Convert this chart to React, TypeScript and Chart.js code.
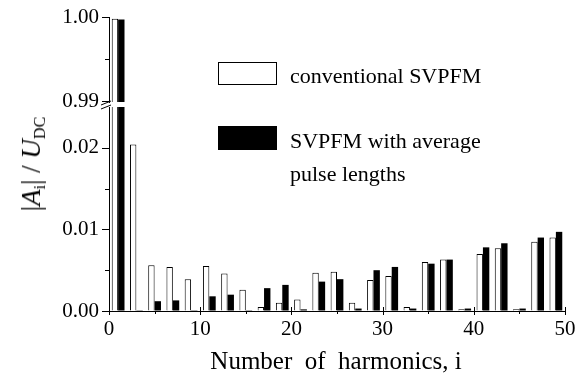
import React, { useEffect, useRef } from 'react';
import { Chart, registerables } from 'chart.js';

Chart.register(...registerables);

// ---- data ----
const HARMONICS = [1, 3, 5, 7, 9, 11, 13, 15, 17, 19, 21, 23, 25, 27, 29, 31, 33, 35, 37, 39, 41, 43, 45, 47, 49];
const CONVENTIONAL = [0.9998, 0.0204, 0.0056, 0.0054, 0.0039, 0.0055, 0.0046, 0.0026, 0.0005, 0.001, 0.0014, 0.0047, 0.0048, 0.001, 0.0038, 0.0043, 0.0005, 0.006, 0.0063, 0.0002, 0.007, 0.0077, 0.0002, 0.0085, 0.009];
const AVERAGE = [0.9997, 0.0001, 0.0012, 0.0013, 0.0001, 0.0018, 0.002, 0.0001, 0.0028, 0.0032, 0.0002, 0.0036, 0.0039, 0.0003, 0.005, 0.0054, 0.0003, 0.0058, 0.0063, 0.0003, 0.0078, 0.0083, 0.0003, 0.009, 0.0097];
const SERIES_LABELS = ['conventional SVPFM', 'SVPFM with average pulse lengths'];

const UPPER_TICKS = [0.99, 0.995, 1.0];
const LOWER_TICKS = [0, 0.005, 0.01, 0.015, 0.02];
const X_MAJOR = [0, 10, 20, 30, 40, 50];
const X_MINOR = [5, 15, 25, 35, 45];
const UPPER_MIN = 0.9899;
const UPPER_MAX = 1.0;
const LOWER_MIN = 0;
const LOWER_MAX = 0.025;
const X_MIN = 0;
const X_MAX = 50;

const FONT = "'Liberation Serif', 'Times New Roman', serif";
const AXIS_W = 109;
const RIGHT_PAD = 21;

const isMajorY = (v: number) => Math.abs(v * 100 - Math.round(v * 100)) < 1e-6;

function makeDatasets() {
  return [
    {
      label: SERIES_LABELS[0],
      data: HARMONICS.map((h, i) => ({ x: h, y: CONVENTIONAL[i] })),
      backgroundColor: '#ffffff',
      borderColor: '#000000',
      borderWidth: 1,
      borderSkipped: 'start',
      categoryPercentage: 0.7,
      barPercentage: 1.0,
      clip: 0,
    },
    {
      label: SERIES_LABELS[1],
      data: HARMONICS.map((h, i) => ({ x: h, y: AVERAGE[i] })),
      backgroundColor: '#000000',
      borderColor: '#000000',
      borderWidth: 0,
      categoryPercentage: 0.7,
      barPercentage: 1.0,
      clip: 0,
    },
  ];
}

function makeTickPlugin(showX: boolean, breakMarks: boolean) {
  return {
    id: 'customTicks',
    afterDraw(chart: any) {
      const ctx = chart.ctx;
      const area = chart.chartArea;
      const ys = chart.scales.y;
      ctx.save();
      ctx.strokeStyle = '#000';
      ctx.lineWidth = 1;
      ys.ticks.forEach((t: any) => {
        const p = Math.round(ys.getPixelForValue(t.value)) + 0.5;
        const len = isMajorY(t.value) ? 7 : 4;
        ctx.beginPath();
        ctx.moveTo(area.left - len, p);
        ctx.lineTo(area.left, p);
        ctx.stroke();
      });
      if (showX) {
        const xs = chart.scales.x;
        X_MAJOR.forEach((v) => {
          const p = Math.round(xs.getPixelForValue(v)) + 0.5;
          ctx.beginPath();
          ctx.moveTo(p, area.bottom - 4);
          ctx.lineTo(p, area.bottom + 4);
          ctx.stroke();
        });
        X_MINOR.forEach((v) => {
          const p = Math.round(xs.getPixelForValue(v)) + 0.5;
          ctx.beginPath();
          ctx.moveTo(p, area.bottom);
          ctx.lineTo(p, area.bottom + 3);
          ctx.stroke();
        });
      }
      if (breakMarks) {
        const l = area.left;
        const t = area.top;
        ctx.beginPath();
        ctx.moveTo(l - 8, t - 2);
        ctx.lineTo(l + 2, t - 6);
        ctx.moveTo(l - 8, t + 2);
        ctx.lineTo(l + 2, t - 2);
        ctx.stroke();
      }
      ctx.restore();
    },
  };
}

function yScale(min: number, max: number, ticks: number[]) {
  return {
    type: 'linear',
    min,
    max,
    afterBuildTicks: (scale: any) => {
      scale.ticks = ticks.map((v) => ({ value: v }));
    },
    afterFit: (scale: any) => {
      scale.width = AXIS_W;
      scale.paddingTop = 0;
      scale.paddingBottom = 0;
    },
    grid: { display: true, drawOnChartArea: false, drawTicks: false },
    border: { display: true, color: '#000', width: 1 },
    ticks: {
      autoSkip: false,
      padding: 10,
      color: '#000',
      font: { family: FONT, size: 21 },
      callback: (v: any) => (isMajorY(Number(v)) ? Number(v).toFixed(2) : ''),
    },
  };
}

export default function App() {
  const topRef = useRef<HTMLCanvasElement>(null);
  const botRef = useRef<HTMLCanvasElement>(null);

  useEffect(() => {
    const common = {
      responsive: false,
      animation: false,
      plugins: { legend: { display: false }, tooltip: { enabled: false } },
    };
    const top = new Chart(topRef.current as HTMLCanvasElement, {
      type: 'bar',
      data: { datasets: makeDatasets() as any },
      options: {
        ...common,
        layout: { padding: { top: 17, bottom: 23, left: 0, right: RIGHT_PAD } },
        scales: {
          x: { type: 'linear', min: X_MIN, max: X_MAX, offset: false, display: false },
          y: yScale(UPPER_MIN, UPPER_MAX, UPPER_TICKS),
        },
      } as any,
      plugins: [makeTickPlugin(false, false)],
    });
    const bot = new Chart(botRef.current as HTMLCanvasElement, {
      type: 'bar',
      data: { datasets: makeDatasets() as any },
      options: {
        ...common,
        layout: { padding: { top: 12, bottom: 0, left: 0, right: RIGHT_PAD } },
        scales: {
          x: {
            type: 'linear',
            min: X_MIN,
            max: X_MAX,
            offset: false,
            afterBuildTicks: (scale: any) => {
              scale.ticks = X_MAJOR.map((v) => ({ value: v }));
            },
            afterFit: (scale: any) => {
              scale.height = 44;
            },
            grid: { display: true, drawOnChartArea: false, drawTicks: false },
            border: { display: true, color: '#000', width: 1 },
            ticks: {
              autoSkip: false,
              maxRotation: 0,
              padding: 6,
              color: '#000',
              font: { family: FONT, size: 21 },
            },
          },
          y: yScale(LOWER_MIN, LOWER_MAX, LOWER_TICKS),
        },
      } as any,
      plugins: [makeTickPlugin(true, true)],
    });
    return () => {
      top.destroy();
      bot.destroy();
    };
  }, []);

  const sub = { fontSize: '0.6em', verticalAlign: '-0.3em', fontStyle: 'normal' as const };

  return (
    <div style={{ position: 'absolute', left: 0, top: 0, width: 586, height: 378, background: '#fff', fontFamily: FONT, color: '#000', overflow: 'hidden' }}>
      <canvas ref={topRef} width={586} height={125} style={{ position: 'absolute', left: 0, top: 0 }} />
      <canvas ref={botRef} width={586} height={260} style={{ position: 'absolute', left: 0, top: 95 }} />
      {/* legend */}
      <div style={{ position: 'absolute', left: 218, top: 62, width: 59, height: 23, border: '1px solid #000', boxSizing: 'border-box', background: '#fff' }} />
      <div style={{ position: 'absolute', left: 290, top: 65, fontSize: 22, lineHeight: '22px', whiteSpace: 'nowrap' }}>{SERIES_LABELS[0]}</div>
      <div style={{ position: 'absolute', left: 218, top: 126, width: 59, height: 24, background: '#000' }} />
      <div style={{ position: 'absolute', left: 290, top: 130, fontSize: 22, lineHeight: '22px', whiteSpace: 'nowrap' }}>SVPFM with average</div>
      <div style={{ position: 'absolute', left: 290, top: 163, fontSize: 22, lineHeight: '22px', whiteSpace: 'nowrap' }}>pulse lengths</div>
      {/* axis titles */}
      <div style={{ position: 'absolute', left: 33, top: 164, transform: 'translate(-50%, -50%) rotate(-90deg)', fontSize: 27, lineHeight: 1, whiteSpace: 'pre' }}>
        |<i>A</i><span style={sub}>i</span>| / <i>U</i><span style={sub}>DC</span>
      </div>
      <div style={{ position: 'absolute', left: 336, top: 348, transform: 'translateX(-50%)', fontSize: 25, lineHeight: '25px', whiteSpace: 'pre' }}>
        {'Number  of  harmonics, i'}
      </div>
    </div>
  );
}
